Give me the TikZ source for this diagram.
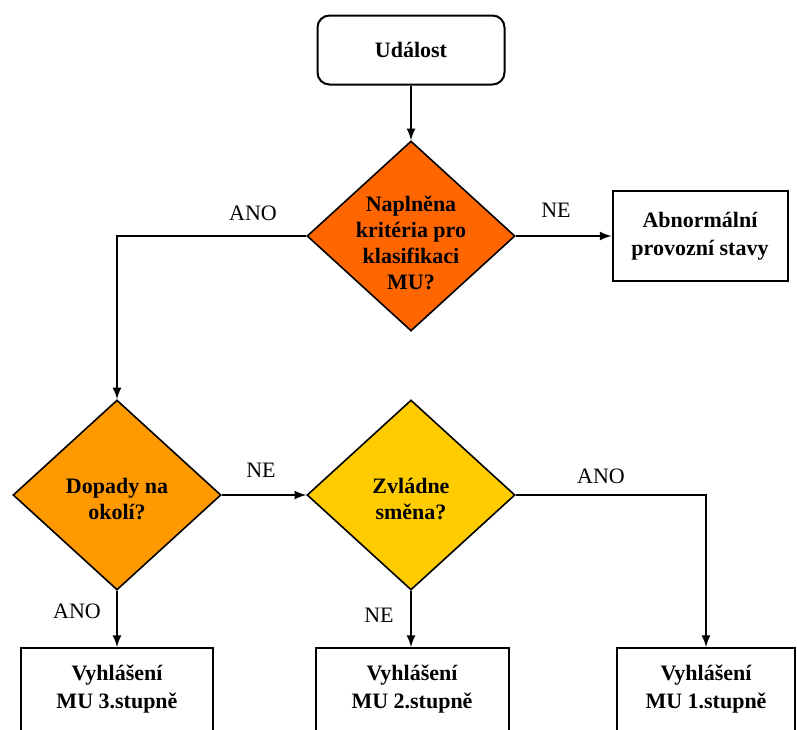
\documentclass[tikz,border=0pt]{standalone}
\usepackage{fontspec}
\setmainfont{Liberation Serif}
\usetikzlibrary{shapes.geometric}
\definecolor{krit}{HTML}{FF6600}
\definecolor{dopad}{HTML}{FF9900}
\definecolor{smena}{HTML}{FFCC00}
\begin{document}
\begin{tikzpicture}[x=0.5pt,y=-0.5pt,
    box/.style={draw,line width=1pt,inner sep=0pt,align=center,
      font=\fontsize{11}{14}\selectfont\bfseries},
    decision/.style={draw,diamond,line width=.8pt,inner sep=0pt,
      minimum width=104pt,minimum height=95pt},
    qtext/.style={align=center,font=\fontsize{11}{13}\selectfont\bfseries},
    lbl/.style={font=\fontsize{11}{13}\selectfont},
    conn/.style={line width=1pt,-latex}]
  \clip (0,0) rectangle (797,729);
  \node[box,rounded corners=6pt,minimum width=93.5pt,minimum height=34.5pt] (udalost) at (411,50) {Událost};
  \node[decision,fill=krit] (naplnena) at (411,236) {};
  \node[qtext] (naplnenatext) at (411,243) {Naplněna\\kritéria pro\\klasifikaci\\MU?};
  \node[box,minimum width=87.5pt,minimum height=45pt] (abnorm) at (700,236) {Abnormální\\provozní stavy};
  \node[decision,fill=dopad] (dopady) at (117,495) {};
  \node[qtext] (dopadytext) at (117,499) {Dopady na\\okolí?};
  \node[decision,fill=smena] (zvladne) at (411,495) {};
  \node[qtext] (zvladnetext) at (411,499) {Zvládne\\směna?};
  \node[box,minimum width=96pt,minimum height=41.5pt] (vyhl3) at (117,689.5) {Vyhlášení\\MU 3.stupně};
  \node[box,minimum width=96.5pt,minimum height=41.5pt] (vyhl2) at (412,689.5) {Vyhlášení\\MU 2.stupně};
  \node[box,minimum width=89pt,minimum height=41.5pt] (vyhl1) at (706,689.5) {Vyhlášení\\MU 1.stupně};
  % labels of the branches
  \node[lbl] (ano1) at (253,213) {ANO};
  \node[lbl] (ne1) at (556,210) {NE};
  \node[lbl] (ne2) at (261,470) {NE};
  \node[lbl] (ano2) at (601,476) {ANO};
  \node[lbl] (ano3) at (77,611) {ANO};
  \node[lbl] (ne3) at (379,615) {NE};
  \draw[conn] (udalost) -- (naplnena);
  \draw[conn] (naplnena.east) -- (abnorm.west);
  \draw[conn] (naplnena.west) -| (dopady.north);
  \draw[conn] (dopady.east) -- (zvladne.west);
  \draw[conn] (dopady.south) -- (vyhl3.north);
  \draw[conn] (zvladne.south) -- (zvladne.south |- vyhl2.north);
  \draw[conn] (zvladne.east) -| (vyhl1.north);
\end{tikzpicture}
\end{document}
